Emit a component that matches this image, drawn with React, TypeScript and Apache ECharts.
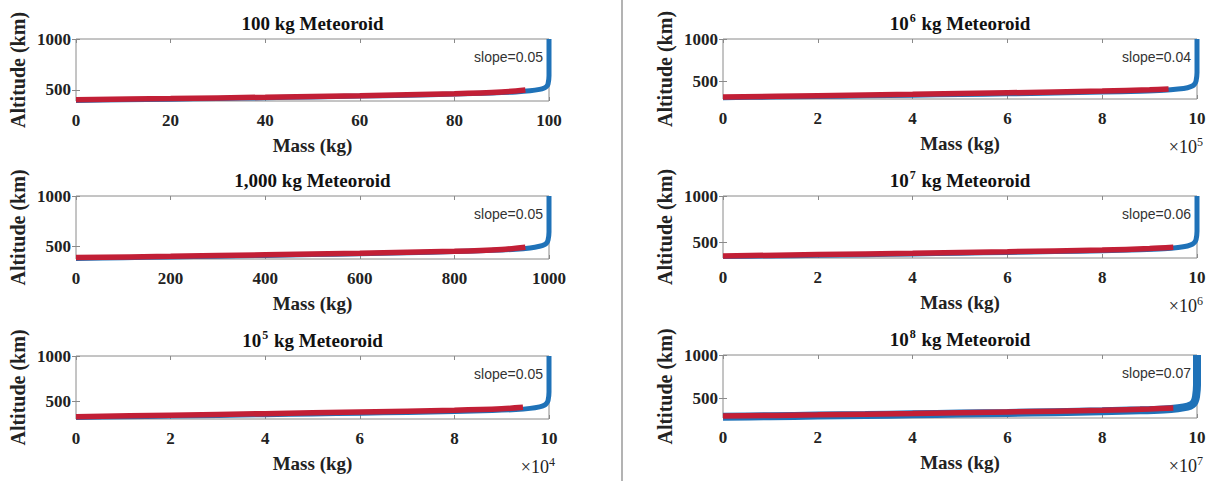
import React, { useEffect, useRef } from "react";
import * as echarts from "echarts";

// ---- data (mass in axis units, altitude in km) ----
const blue1Mass = [0, 10, 20, 30, 40, 50, 60, 70, 80, 88, 93, 96, 98, 99, 99.5, 99.8, 100, 100];
const blue1Alt = [398, 404, 410, 417, 424, 432, 440, 449, 460, 471, 481, 492, 506, 520, 535, 560, 640, 1000];
const red1Mass = [0, 20, 40, 60, 80, 90, 95];
const red1Alt = [405, 416, 429, 444, 463, 480, 500];

const blue2Mass = [0, 100, 200, 300, 400, 500, 600, 700, 800, 880, 930, 960, 980, 990, 995, 998, 1000, 1000];
const blue2Alt = [376, 383, 390, 398, 406, 414, 423, 433, 445, 457, 468, 481, 497, 512, 530, 560, 640, 1000];
const red2Mass = [0, 200, 400, 600, 800, 900, 950];
const red2Alt = [384, 397, 412, 428, 448, 466, 488];

const blue3Mass = [0, 1, 2, 3, 4, 5, 6, 7, 8, 8.8, 9.3, 9.6, 9.8, 9.9, 9.95, 9.98, 10, 10];
const blue3Alt = [318, 325, 332, 340, 348, 356, 364, 373, 383, 394, 405, 418, 435, 452, 475, 505, 600, 1000];
const red3Mass = [0, 2, 4, 6, 8, 9, 9.45];
const red3Alt = [326, 342, 359, 378, 398, 414, 430];

const blue4Mass = [0, 1, 2, 3, 4, 5, 6, 7, 8, 8.8, 9.3, 9.6, 9.8, 9.9, 9.95, 9.98, 10, 10];
const blue4Alt = [302, 309, 316, 324, 332, 340, 348, 357, 368, 379, 390, 404, 420, 440, 465, 500, 600, 1000];
const red4Mass = [0, 2, 4, 6, 8, 9, 9.4];
const red4Alt = [310, 326, 342, 360, 380, 396, 405];

const blue5Mass = [0, 1, 2, 3, 4, 5, 6, 7, 8, 8.8, 9.3, 9.6, 9.8, 9.9, 9.95, 9.98, 10, 10];
const blue5Alt = [345, 352, 359, 366, 374, 382, 390, 399, 409, 420, 431, 444, 460, 478, 500, 530, 620, 1000];
const red5Mass = [0, 2, 4, 6, 8, 9, 9.5];
const red5Alt = [352, 367, 382, 398, 416, 432, 445];

const blue6Mass = [0, 1, 2, 3, 4, 5, 6, 7, 8, 8.8, 9.3, 9.6, 9.8, 9.9, 9.95, 9.98, 10, 10];
const blue6Alt = [282, 289, 296, 303, 311, 319, 327, 336, 346, 357, 368, 382, 400, 425, 460, 520, 650, 1000];
const red6Mass = [0, 2, 4, 6, 8, 9, 9.5];
const red6Alt = [290, 305, 321, 338, 357, 373, 385];

const xMaxes = [100, 1000, 10, 10, 10, 10];
const xIntervals = [20, 200, 2, 2, 2, 2];
const yMins = [392, 370, 300, 286, 330, 268];
const yTicks = [500, 1000];
const titleBases = ["100", "1,000", "10", "10", "10", "10"];
const titleExps = ["", "", "5", "6", "7", "8"];
const slopes = ["0.05", "0.05", "0.05", "0.04", "0.06", "0.07"];
const multExps = ["", "", "4", "5", "6", "7"];

const blueMass = [blue1Mass, blue2Mass, blue3Mass, blue4Mass, blue5Mass, blue6Mass];
const blueAlt = [blue1Alt, blue2Alt, blue3Alt, blue4Alt, blue5Alt, blue6Alt];
const redMass = [red1Mass, red2Mass, red3Mass, red4Mass, red5Mass, red6Mass];
const redAlt = [red1Alt, red2Alt, red3Alt, red4Alt, red5Alt, red6Alt];

// ---- layout ----
const gridRects = [
  { left: 76, top: 39, width: 473, height: 62 },
  { left: 76, top: 196, width: 473, height: 63 },
  { left: 76, top: 356, width: 473, height: 63 },
  { left: 723, top: 39, width: 474, height: 60 },
  { left: 723, top: 196, width: 474, height: 62 },
  { left: 723, top: 355, width: 474, height: 63 },
];

const SERIF = '"Liberation Serif", "Times New Roman", serif';
const SANS = '"Liberation Sans", Arial, sans-serif';
const BLUE = "#1f72b8";
const RED = "#c21f36";

function zip(a: number[], b: number[]) {
  return a.map((v, i) => [v, b[i]]);
}

export default function App() {
  const ref = useRef<HTMLDivElement>(null);
  useEffect(() => {
    if (!ref.current) return;
    const chart = echarts.init(ref.current, undefined, { renderer: "svg" });
    const grid: any[] = [];
    const xAxis: any[] = [];
    const yAxis: any[] = [];
    const series: any[] = [];
    const graphic: any[] = [];
    const plain = (v: number) => String(v);

    gridRects.forEach((r, i) => {
      grid.push({ ...r, show: true, borderColor: "#8a8a8a", borderWidth: 1, backgroundColor: "#fff" });
      const xi = xAxis.length;
      xAxis.push({
        type: "value",
        gridIndex: i,
        min: 0,
        max: xMaxes[i],
        interval: xIntervals[i],
        position: "bottom",
        axisLine: { show: false },
        splitLine: { show: false },
        axisTick: { show: true, inside: true, length: 4, lineStyle: { color: "#8a8a8a" } },
        axisLabel: {
          formatter: plain,
          fontFamily: SERIF,
          fontWeight: "bold",
          fontSize: 17,
          color: "#222",
          margin: 11,
        },
        name: "Mass (kg)",
        nameLocation: "middle",
        nameGap: 35,
        nameTextStyle: { fontFamily: SERIF, fontWeight: "bold", fontSize: 19, color: "#222" },
      });
      xAxis.push({
        type: "value",
        gridIndex: i,
        min: 0,
        max: xMaxes[i],
        interval: xIntervals[i],
        position: "top",
        axisLine: { show: false },
        splitLine: { show: false },
        axisTick: { show: true, inside: true, length: 4, lineStyle: { color: "#8a8a8a" } },
        axisLabel: { show: false },
      });
      const yi = yAxis.length;
      yAxis.push({
        type: "value",
        gridIndex: i,
        min: yMins[i],
        max: 1000,
        position: "left",
        axisLine: { show: false },
        splitLine: { show: false },
        axisTick: { show: true, inside: true, length: 4, customValues: yTicks, lineStyle: { color: "#8a8a8a" } },
        axisLabel: {
          customValues: yTicks,
          formatter: plain,
          fontFamily: SERIF,
          fontWeight: "bold",
          fontSize: 17,
          color: "#222",
          margin: 5,
        },
        name: "Altitude (km)",
        nameLocation: "middle",
        nameGap: 48,
        nameTextStyle: { fontFamily: SERIF, fontWeight: "bold", fontSize: 20, color: "#222" },
      });
      yAxis.push({
        type: "value",
        gridIndex: i,
        min: yMins[i],
        max: 1000,
        position: "right",
        axisLine: { show: false },
        splitLine: { show: false },
        axisTick: { show: true, inside: true, length: 4, customValues: yTicks, lineStyle: { color: "#8a8a8a" } },
        axisLabel: { show: false },
      });
      series.push({
        type: "line",
        xAxisIndex: xi,
        yAxisIndex: yi,
        data: zip(blueMass[i], blueAlt[i]),
        showSymbol: false,
        symbol: "none",
        smooth: 0.3,
        lineStyle: { color: BLUE, width: i === 5 ? 8 : 5 },
        z: 2,
      });
      series.push({
        type: "line",
        xAxisIndex: xi,
        yAxisIndex: yi,
        data: zip(redMass[i], redAlt[i]),
        showSymbol: false,
        symbol: "none",
        smooth: 0.3,
        lineStyle: { color: RED, width: 5.5 },
        z: 3,
      });

      const cx = r.left + r.width / 2;
      const titleText = titleExps[i]
        ? `{n|${titleBases[i]}}{s|${titleExps[i]}}{n| kg Meteoroid}`
        : `{n|${titleBases[i]} kg Meteoroid}`;
      graphic.push({
        type: "text",
        x: cx,
        y: r.top - 16,
        style: {
          text: titleText,
          align: "center",
          verticalAlign: "middle",
          rich: {
            n: { fontFamily: SERIF, fontWeight: "bold", fontSize: 19, fill: "#111", lineHeight: 22 },
            s: { fontFamily: SERIF, fontWeight: "bold", fontSize: 12, fill: "#111", verticalAlign: "top", lineHeight: 14, padding: [0, 1, 0, 1] },
          },
        },
      });
      graphic.push({
        type: "text",
        x: r.left + r.width - 6,
        y: r.top + 18,
        style: {
          text: `slope=${slopes[i]}`,
          align: "right",
          verticalAlign: "middle",
          fontFamily: SANS,
          fontSize: 14,
          fill: "#333",
        },
      });
      if (multExps[i]) {
        graphic.push({
          type: "text",
          x: r.left + r.width + 6,
          y: r.top + r.height + 48,
          style: {
            text: `{n|×10}{s|${multExps[i]}}`,
            align: "right",
            verticalAlign: "middle",
            rich: {
              n: { fontFamily: SERIF, fontSize: 18, fill: "#222", lineHeight: 22 },
              s: { fontFamily: SERIF, fontSize: 12, fill: "#222", verticalAlign: "top", lineHeight: 14 },
            },
          },
        });
      }
    });

    graphic.push({
      type: "line",
      shape: { x1: 622, y1: 0, x2: 622, y2: 481 },
      style: { stroke: "#9a9a9a", lineWidth: 1.5 },
    });

    chart.setOption({
      animation: false,
      backgroundColor: "#fff",
      grid,
      xAxis,
      yAxis,
      series,
      graphic,
    });
    return () => chart.dispose();
  }, []);
  return (
    <div
      ref={ref}
      style={{ position: "fixed", left: 0, top: 0, width: 1211, height: 481 }}
    />
  );
}
